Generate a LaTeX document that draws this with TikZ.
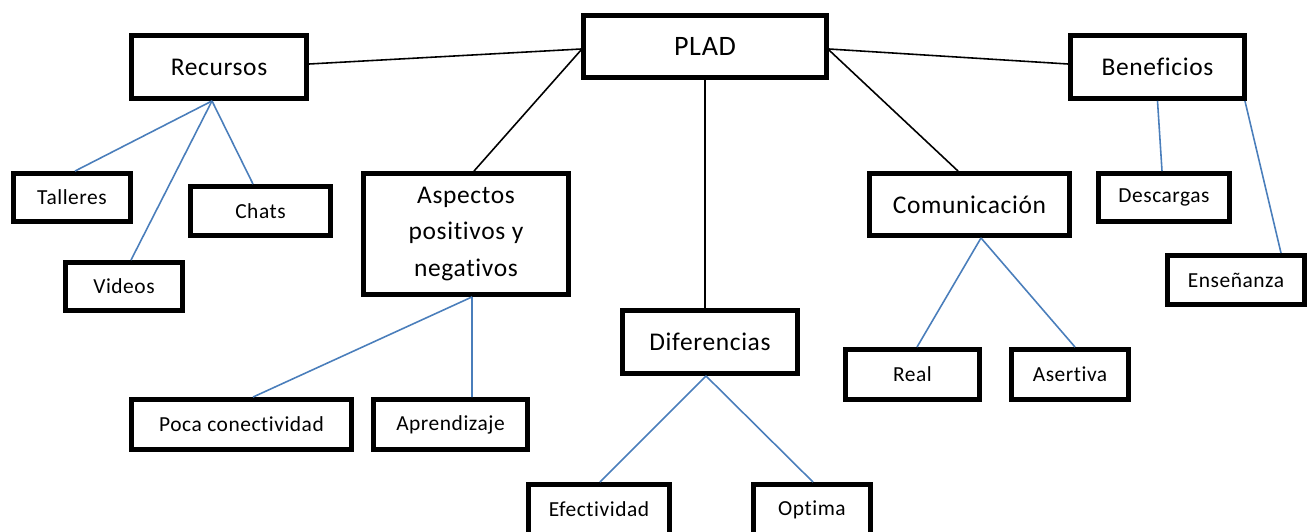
\documentclass[tikz,border=0pt]{standalone}
\usepackage{fontspec}
\setmainfont{Carlito}[Ligatures=NoCommon, LetterSpace=2.5]
\usetikzlibrary{calc}
\definecolor{linkblue}{HTML}{4A7EBB}
\tikzset{
  box/.style={draw, line width=2.8pt, inner sep=0pt, align=center},
  big/.style={font=\fontsize{16}{19}\selectfont},
  mid/.style={font=\fontsize{14.5}{21}\selectfont},
  small/.style={font=\fontsize{12.2}{15}\selectfont},
  mainlink/.style={draw=black, line width=0.9pt},
  sublink/.style={draw=linkblue, line width=0.9pt}
}
\begin{document}
\begin{tikzpicture}[x=0.02cm, y=-0.02cm]
      \useasboundingbox (0,0) rectangle (1307,531);
      \draw
        (705,46.5) node[box,big,minimum width=4.86cm,minimum height=1.24cm] (plad){PLAD}
        (219,67) node[box,mid,minimum width=3.5cm,minimum height=1.26cm] (recursos){Recursos}
        (1157.5,67) node[box,mid,minimum width=3.48cm,minimum height=1.26cm] (beneficios){Beneficios}
        (466,234) node[box,mid,minimum width=4.1cm,minimum height=2.42cm] (aspectos){Aspectos\\positivos y\\negativos}
        (969.5,204.5) node[box,mid,minimum width=4.0cm,minimum height=1.24cm] (comunicacion){Comunicación}
        (710,342) node[box,mid,minimum width=3.5cm,minimum height=1.26cm] (diferencias){Diferencias}
        (72,197.5) node[box,small,minimum width=2.34cm,minimum height=0.96cm] (talleres){Talleres}
        (260.5,211) node[box,small,minimum width=2.8cm,minimum height=0.98cm] (chats){Chats}
        (124,286.5) node[box,small,minimum width=2.34cm,minimum height=0.96cm] (videos){Videos}
        (1164,197.5) node[box,small,minimum width=2.62cm,minimum height=0.96cm] (descargas){Descargas}
        (1236,280) node[box,small,minimum width=2.74cm,minimum height=0.98cm] (ensenanza){Enseñanza}
        (241.5,424.5) node[box,small,minimum width=4.4cm,minimum height=1.0cm] (poca){Poca conectividad}
        (450.5,424.5) node[box,small,minimum width=3.08cm,minimum height=1.0cm] (aprendizaje){Aprendizaje}
        (912.5,374.5) node[box,small,minimum width=2.68cm,minimum height=1.0cm] (real){Real}
        (1070,374.5) node[box,small,minimum width=2.34cm,minimum height=1.0cm] (asertiva){Asertiva}
        (599,509.5) node[box,small,minimum width=2.82cm,minimum height=1.0cm] (efectividad){Efectividad}
        (812,509.5) node[box,small,minimum width=2.34cm,minimum height=1.0cm] (optima){Optima};
      % main branches
      \begin{scope}[mainlink]
        \draw ($(plad.west)+(0,2.5)$) to ($(recursos.east)+(0,-3)$);
        \draw ($(plad.west)+(0,3.5)$) to ($(aspectos.north)+(8,0)$);
        \draw (plad.south) to (plad.south |- diferencias.north);
        \draw ($(plad.east)+(0,2.5)$) to ($(beneficios.west)+(0,-3)$);
        \draw ($(plad.east)+(0,3.5)$) to ($(comunicacion.north)+(-11.5,0)$);
      \end{scope}
      % sub branches
      \begin{scope}[sublink]
        \draw ($(recursos.south)+(-7,0)$) to ($(talleres.north)+(3,0)$);
        \draw ($(recursos.south)+(-7,0)$) to ($(videos.north)+(7,0)$);
        \draw ($(recursos.south)+(-7,0)$) to ($(chats.north)+(-7.5,0)$);
        \draw ($(aspectos.south)+(6,0)$) to ($(poca.north)+(11.5,0)$);
        \draw ($(aspectos.south)+(6,0)$) to ($(aprendizaje.north)+(21.5,0)$);
        \draw ($(diferencias.south)+(-4,0)$) to ($(efectividad.north)+(1,0)$);
        \draw ($(diferencias.south)+(-4,0)$) to ($(optima.north)+(1,0)$);
        \draw ($(comunicacion.south)+(11.5,0)$) to ($(real.north)+(4.5,0)$);
        \draw ($(comunicacion.south)+(11.5,0)$) to ($(asertiva.north)+(5,0)$);
        \draw (beneficios.south) to ($(descargas.north)+(-2,0)$);
        \draw ($(beneficios.south east)+(-2,0)$) to ($(ensenanza.north)+(45,0)$);
      \end{scope}
    \end{tikzpicture}
\end{document}
